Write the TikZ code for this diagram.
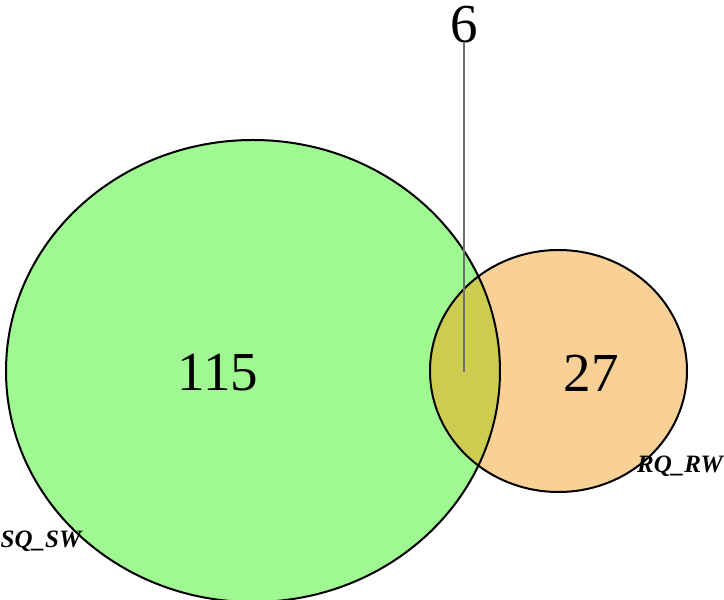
\documentclass[tikz,border=0pt]{standalone}
\usepackage{fontspec}
\setmainfont{Liberation Serif}
\definecolor{vgreen}{RGB}{160,248,146}
\definecolor{vorange}{RGB}{249,209,150}
\definecolor{vboth}{RGB}{204,204,80}
\definecolor{vline}{RGB}{110,110,110}
\tikzset{
  setline/.style={draw=black,line width=2pt},
  bignum/.style={inner sep=0pt,font=\fontsize{55}{60}\selectfont},
  setlabel/.style={inner sep=0pt,font=\fontsize{25}{28}\selectfont\bfseries\itshape},
  leader/.style={draw=vline,line width=1.1pt}
}
\begin{document}
\begin{tikzpicture}[x=1pt,y=1pt]
\useasboundingbox (0,0) rectangle (724,600);
\fill[vgreen] (253,229) ellipse [x radius=247, y radius=231];
\fill[vorange] (558.5,229) ellipse [x radius=128.5, y radius=121];
\begin{scope}
  \clip (253,229) ellipse [x radius=247, y radius=231];
  \fill[vboth] (558.5,229) ellipse [x radius=128.5, y radius=121];
\end{scope}
\draw[setline] (253,229) ellipse [x radius=247, y radius=231];
\draw[setline] (558.5,229) ellipse [x radius=128.5, y radius=121];
\node[bignum] (n115) at (218,227) {115};
\node[bignum] (n27) at (591,227) {27};
\node[bignum,anchor=south] (n6) at (464,557) {6};
\coordinate (p6) at (464,228);
\draw[leader] (n6.south) -- (p6);
\node[setlabel] (lsq) at (41,59) {SQ\_SW};
\node[setlabel] (lrq) at (680,134) {RQ\_RW};
\end{tikzpicture}
\end{document}
